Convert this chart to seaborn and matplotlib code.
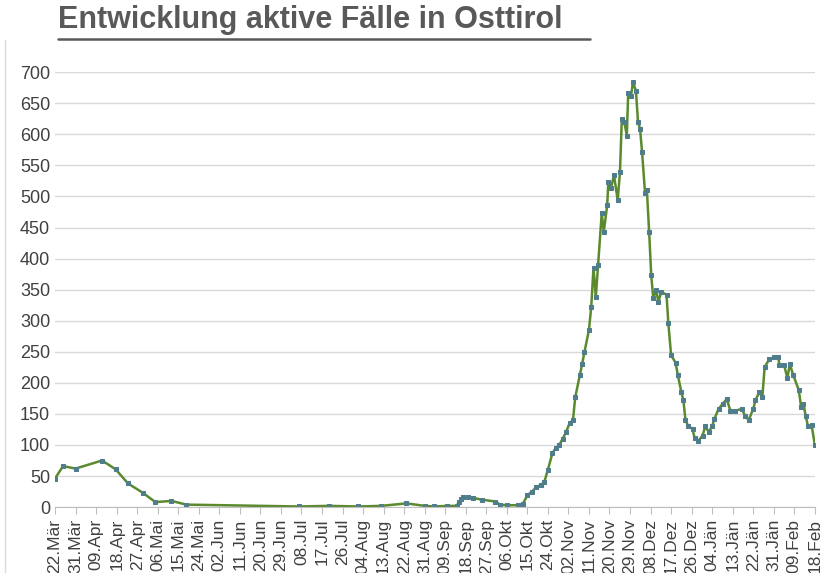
import datetime as dt
import pandas as pd
import matplotlib.pyplot as plt
import seaborn as sns

# days since 22.03.2020 and active cases
days = [0, 3.5, 9, 20.6, 26.5, 32, 38.5, 44, 51, 57.5, 107, 120, 133, 143, 154,
        162, 166, 172, 176, 177, 178, 179, 181, 183, 187, 193, 195, 198, 203, 205,
        207, 209, 211, 213, 214.4, 216, 218, 219.5, 221, 222.5, 224, 225.5, 227, 228,
        230, 231, 232, 234, 235, 236, 237, 238, 239.6, 240.5, 242, 242.5, 243.6, 245,
        246.6, 247.6, 248.4, 249.5, 250.6, 251.2, 252.4, 253.3, 254.6, 255.5, 256.4,
        257.3, 258.6, 259.4, 260.4, 261.3, 262.2, 263.5, 264.4, 265.7, 268, 268.8,
        270, 272, 273, 274.5, 275.4, 276.3, 277.6, 279.4, 280.3, 282, 283.8, 285,
        286.5, 288, 289, 290.8, 292.6, 294.4, 296, 298, 301, 302.4, 304, 306, 307,
        308.6, 310, 311, 313, 315, 317, 317.5, 319.6, 321, 322, 323.6, 326, 327, 328,
        329, 330, 331.6, 333]
cases = [46, 66, 62, 75, 61, 38, 23, 8, 10, 4, 1, 2, 1, 2, 6,
         2, 1, 2, 2, 8, 13, 16, 16, 15, 12, 9, 4, 3, 3, 5,
         19, 25, 32, 36, 40, 60, 87, 95, 100, 110, 121, 135, 140, 177,
         212, 230, 249, 285, 322, 385, 338, 389, 473, 443, 486, 523, 513, 534,
         494, 539, 624, 620, 598, 666, 661, 684, 670, 620, 609,
         571, 505, 510, 442, 373, 336, 350, 330, 346, 342, 296,
         245, 232, 212, 185, 172, 140, 130, 126, 111, 107, 115, 130,
         121, 130, 142, 158, 166, 174, 155, 155, 158, 147, 140, 158, 172,
         185, 177, 225, 238, 241, 241, 228, 228, 207, 230, 212, 188, 161, 166,
         147, 130, 132, 100]

month_de = ["Jän", "Feb", "Mär", "Apr", "Mai", "Jun", "Jul", "Aug", "Sep", "Okt", "Nov", "Dez"]
start = dt.datetime(2020, 3, 22)

df = pd.DataFrame({"date": [start + dt.timedelta(days=d) for d in days], "cases": cases})

sns.set_style("white")
plt.rcParams["font.family"] = ["Liberation Sans", "DejaVu Sans"]
fig = plt.figure(figsize=(8.34, 5.73), dpi=100)
ax = fig.add_axes([0.066, 0.115, 0.911, 0.759])

sns.lineplot(data=df, x="date", y="cases", ax=ax, color="#5b8a2e", linewidth=1.8,
             marker="s", markersize=3, markerfacecolor="#4f7d8c",
             markeredgecolor="#4f7d8c")

ticks = [start + dt.timedelta(days=9 * i) for i in range(38)]
ax.set_xticks(ticks)
ax.set_xticklabels([f"{t.day:02d}.{month_de[t.month - 1]}" for t in ticks],
                   rotation=90, fontsize=12.5, color="#404040")
ax.set_xlim(start, start + dt.timedelta(days=333))
ax.set_ylim(0, 700)
ax.set_yticks(range(0, 701, 50))
ax.tick_params(axis="y", labelsize=13, labelcolor="#404040", length=0)
ax.tick_params(axis="x", length=5, color="#bfbfbf", direction="out", bottom=True)
ax.grid(axis="y", color="#d9d9d9", linewidth=1)
ax.set_xlabel("")
ax.set_ylabel("")
for s in ["top", "right", "left"]:
    ax.spines[s].set_visible(False)
ax.spines["bottom"].set_color("#bfbfbf")

fig.text(0.07, 0.965, "Entwicklung aktive Fälle in Osttirol", fontsize=22,
         fontweight="bold", color="#595959", va="center")
fig.add_artist(plt.Line2D([0.07, 0.707], [0.932, 0.932], color="#595959", linewidth=1.8))
fig.add_artist(plt.Line2D([0.006, 0.006], [0.0, 0.93], color="#d9d9d9", linewidth=1))

fig.savefig("out.png", dpi=100)
